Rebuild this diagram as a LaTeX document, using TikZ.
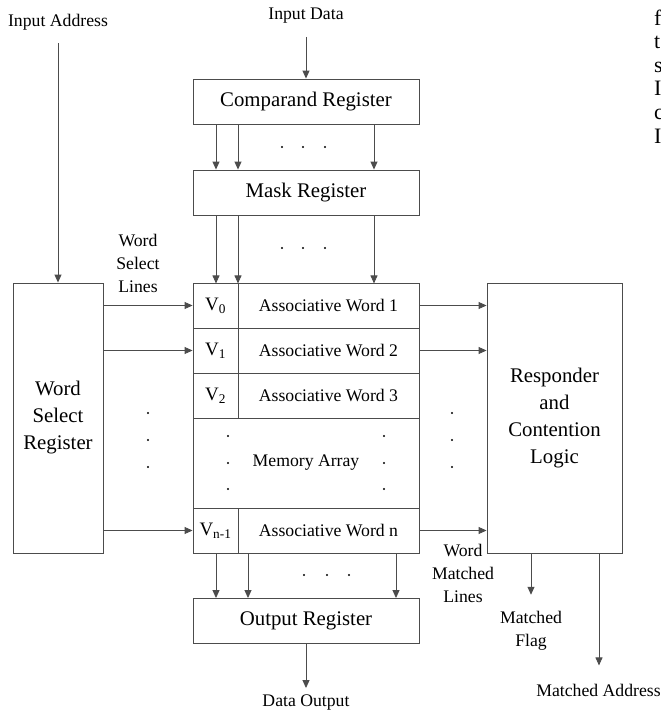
\documentclass[tikz,border=0pt]{standalone}
\usepackage{fontspec}
\setmainfont{Liberation Serif}
\usetikzlibrary{arrows.meta,positioning}

\begin{document}
\begin{tikzpicture}[x=1pt,y=-1pt,node distance=45pt,on grid,
    >={Triangle[length=8pt,width=7pt]},
    box/.style={draw=black!70,line width=0.9pt,inner sep=0pt},
    reg/.style={box,minimum width=226pt,minimum height=45pt,font=\fontsize{20.8}{27}\selectfont},
    vcell/.style={box,minimum width=45pt,minimum height=45pt,font=\fontsize{19}{22}\selectfont},
    wcell/.style={box,minimum width=181pt,minimum height=45pt,font=\fontsize{17.7}{22}\selectfont},
    tall/.style={box,minimum height=270pt,align=center,font=\fontsize{20.8}{27}\selectfont},
    lbl/.style={inner sep=0pt,align=center,font=\fontsize{17.7}{23}\selectfont},
    frag/.style={inner sep=0pt,font=\fontsize{22}{24}\selectfont},
    wire/.style={draw=black!70,line width=0.9pt}]
  \useasboundingbox (0,0) rectangle (661,713);

  \node[reg] (cmp) at (306,101.5) {Comparand Register};
  \node[reg] (mask) [below=91pt of cmp] {Mask Register};

  \node[vcell] (v0) at (215.5,305.5) {V\textsubscript{0}};
  \node[wcell] (w1) [right=113pt of v0] {Associative Word 1};
  \node[vcell] (v1) [below=of v0] {V\textsubscript{1}};
  \node[wcell] (w2) [right=113pt of v1] {Associative Word 2};
  \node[vcell] (v2) [below=of v1] {V\textsubscript{2}};
  \node[wcell] (w3) [right=113pt of v2] {Associative Word 3};
  \node[box,minimum width=226pt,minimum height=90pt,font=\fontsize{17.7}{22}\selectfont] (marr)
    [below right=67.5pt and 90.5pt of v2] {Memory Array};
  \node[vcell] (vn) [below=135pt of v2] {V\textsubscript{n-1}};
  \node[wcell] (wn) [right=113pt of vn] {Associative Word n};
  \node[reg] (out) [below right=90.5pt and 90.5pt of vn] {Output Register};

  \node[tall,minimum width=90pt] (wsr) at (58,418) {Word\\Select\\Register};
  \node[tall,minimum width=135pt] (resp) at (554.5,418) {Responder\\and\\Contention\\Logic};

  \node[lbl] (inaddr) at (58,22) {Input Address};
  \node[lbl] (indata) at (306,16) {Input Data};
  \node[lbl] (wsl) at (138,263) {Word\\Select\\Lines};
  \node[lbl] (wml) at (463,573) {Word\\Matched\\Lines};
  \node[lbl] (mflag) at (531,630.5) {Matched\\Flag};
  \node[lbl] (maddr) at (598.5,690) {Matched Address};
  \node[lbl] (dout) at (306,703) {Data Output};

  \foreach \ch [count=\i] in {f,t,s,I,c,I}
    \node[frag,anchor=base west] (frag\i) at (654,1.4+23.6*\i) {\ch};

  \draw[wire,->,shorten <=13pt] (inaddr.south) -- (wsr.north);
  \draw[wire,->,shorten <=13pt] (indata.south) -- (cmp.north);
  \foreach \dx in {-90,-68,68} {
    \draw[wire,<-] ([xshift=\dx pt]mask.north) -- ++(0,-46);
    \draw[wire,->] ([xshift=\dx pt]mask.south) -- ++(0,68);
  }
  \foreach \dx in {-90,-58,90}
    \draw[wire,<-] ([xshift=\dx pt]out.north) -- ++(0,-45);
  \foreach \c in {v0,v1,vn}
    \draw[wire,->] (wsr.east |- \c) -- (\c.west);
  \foreach \c in {w1,w2,wn}
    \draw[wire,->] (\c.east) -- (resp.west |- \c);
  \draw[wire,->,shorten >=7pt] (out.south) -- (dout.north);
  \draw[wire,->,shorten >=16pt] ([xshift=-23.5pt]resp.south) -- (mflag.north);
  \draw[wire,->] ([xshift=44.5pt]resp.south) -- ++(0,112);

  \foreach \x in {282,303,325} {
    \fill (\x,147) circle (1.2pt);
    \fill (\x,248) circle (1.2pt);
  }
  \foreach \y in {413,440,467} {
    \fill (148,\y) circle (1.2pt);
    \fill (452,\y) circle (1.2pt);
  }
  \foreach \y in {436,463,489} {
    \fill (228,\y) circle (1.2pt);
    \fill (384,\y) circle (1.2pt);
  }
  \foreach \x in {304,327,349}
    \fill (\x,575) circle (1.2pt);
\end{tikzpicture}
\end{document}
